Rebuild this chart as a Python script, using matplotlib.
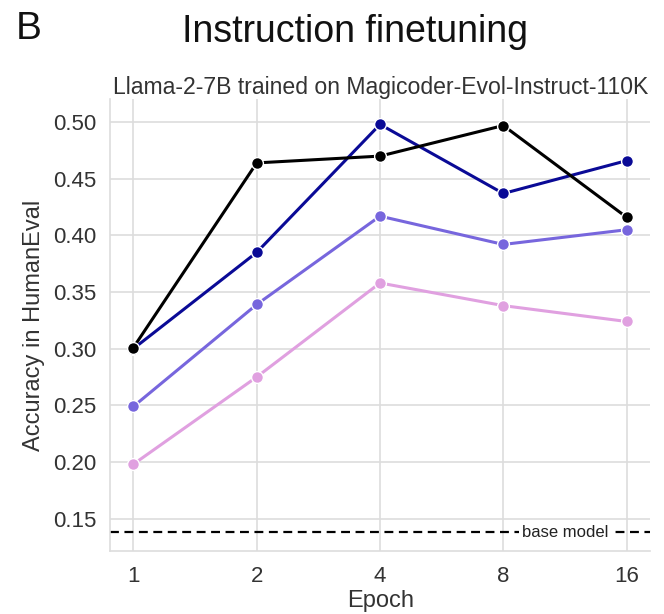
import numpy as np
import matplotlib
matplotlib.use("Agg")
from matplotlib import pyplot as plt

plt.rcParams['font.family'] = ['Liberation Sans', 'DejaVu Sans']

epochs = [1, 2, 4, 8, 16]
series_black = [0.301, 0.464, 0.470, 0.497, 0.416]
series_navy = [0.300, 0.385, 0.498, 0.437, 0.466]
series_slate = [0.249, 0.339, 0.417, 0.392, 0.405]
series_plum = [0.198, 0.275, 0.358, 0.338, 0.324]
base_model = 0.138
yticks = [0.15, 0.20, 0.25, 0.30, 0.35, 0.40, 0.45, 0.50]

colors = ['#000000', '#0a0a96', '#7766dd', '#e0a0e0']
all_series = [series_plum, series_slate, series_navy, series_black]
order_colors = [colors[3], colors[2], colors[1], colors[0]]

fig = plt.figure(figsize=(6.64, 6.14), dpi=100)
ax = fig.add_axes([0.166, 0.103, 0.813, 0.735])

xpos = np.log2(epochs)
for vals, c in zip(all_series, order_colors):
    ax.plot(xpos, vals, color=c, lw=2.2, marker='o', markersize=8.5,
            markeredgecolor='white', markeredgewidth=1.0, zorder=3)

ax.axhline(base_model, color='black', ls=(0, (4, 2.5)), lw=1.6, zorder=2)
ax.text(3.5, base_model, 'base model', ha='center', va='center', fontsize=12,
        color='#222222', bbox=dict(facecolor='white', edgecolor='none', pad=2), zorder=4)

ax.set_xlim(-0.188, 4.19)
ax.set_ylim(0.1216, 0.520)
ax.set_xticks(xpos)
ax.set_xticklabels([str(e) for e in epochs])
ax.set_yticks(yticks)
ax.set_yticklabels(['%.2f' % v for v in yticks])
ax.grid(True, color='#dddddd', lw=1.2)
ax.set_axisbelow(True)
for s in ['top', 'right']:
    ax.spines[s].set_visible(False)
for s in ['left', 'bottom']:
    ax.spines[s].set_color('#dddddd')
    ax.spines[s].set_linewidth(1.2)
ax.tick_params(length=0, labelsize=16, colors='#333333')
ax.tick_params(axis='y', pad=10)
ax.tick_params(axis='x', pad=11)
ax.set_xlabel('Epoch', fontsize=17, color='#333333', labelpad=2)
ax.set_ylabel('Accuracy in HumanEval', fontsize=17, color='#333333', labelpad=6)
ax.set_title('Llama-2-7B trained on Magicoder-Evol-Instruct-110K', fontsize=16.6, color='#333333', pad=3)

fig.text(0.535, 0.948, 'Instruction finetuning', ha='center', va='center', fontsize=27, color='#111111')
fig.text(0.043, 0.952, 'B', ha='center', va='center', fontsize=28, color='#111111')

fig.savefig('out.png', dpi=100)
